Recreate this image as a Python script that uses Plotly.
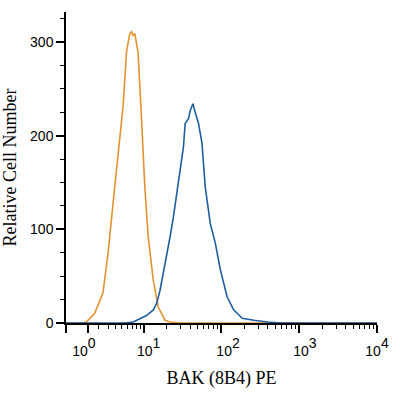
import numpy as np
import plotly.graph_objects as go

# Display transform (biexponential-like, asinh with linearisation width C)
C = 2.8

def tf(v):
    return np.arcsinh(np.asarray(v, dtype=float) / C)

# Isotype control (orange)
iso_x = [-0.88, 0.5, 0.82, 1.57, 2.42, 3.00, 3.65, 4.38, 5.20, 5.82, 6.48, 6.84,
         7.20, 7.59, 8.42, 9.36, 10.36, 11.47, 13.36, 15.5, 19.0, 22.1, 30, 100,
         1000, 10000]
iso_y = [0, 0, 1, 10, 32, 74, 128, 178, 232, 290, 309, 311, 307, 309, 288, 217,
         145, 92, 46, 17, 3, 1, 0, 0, 0, 0]

# BAK (8B4) PE stained (blue)
bak_x = [-0.88, 5.5, 7.2, 10.9, 13.4, 14.8, 16.4, 18.1, 20.0, 22.1, 24.4, 27.0,
         29.8, 32.9, 34.6, 38.2, 40.2, 43.5, 46.6, 51.4, 56.9, 62.7, 72.8, 84.5,
         97.9, 119.5, 145, 187, 263, 393, 600, 10000]
bak_y = [0, 0, 1, 8, 14, 21, 35, 53, 71, 92, 113, 138, 160, 188, 213, 218, 227,
         234, 225, 213, 192, 145, 106, 85, 57, 28, 14, 5, 3, 1, 0, 0]

x_min, x_max = -0.88, 10000
major_vals = [1, 10, 100, 1000, 10000]
major_text = ["<span style='font-size:14px'>10</span><sup>%d</sup>" % i for i in range(5)]
minor_vals = [m * 10 ** n for n in range(4) for m in range(2, 10)]
y_major = [0, 100, 200, 300]

# where the decade labels are centred (the instrument software offsets them)
label_anchor = [0.62, 11.6, 123, 1190, 10000]

xr = [float(tf(x_min)), float(tf(x_max))]

fig = go.Figure()
fig.add_trace(go.Scatter(x=tf(iso_x), y=iso_y, mode="lines",
                         line=dict(color="#E3922F", width=1.6), showlegend=False,
                         hoverinfo="skip"))
fig.add_trace(go.Scatter(x=tf(bak_x), y=bak_y, mode="lines",
                         line=dict(color="#1F5E9E", width=1.6), showlegend=False))
# invisible carrier for the label axis
fig.add_trace(go.Scatter(x=xr, y=[0, 0], xaxis="x2", mode="lines",
                         line=dict(width=0, color="rgba(0,0,0,0)"),
                         showlegend=False, hoverinfo="skip"))

tick_font = dict(family="Liberation Sans, Arial", size=14, color="black")
xtick_font = dict(family="Liberation Sans, Arial", size=20, color="black")
title_font = dict(family="Liberation Serif, Times New Roman", size=18, color="black")

fig.update_layout(
    width=400, height=399,
    margin=dict(l=66, r=23, t=12, b=76),
    paper_bgcolor="white", plot_bgcolor="white",
    xaxis=dict(
        range=xr, automargin=False,
        tickmode="array",
        tickvals=[xr[0]] + [float(v) for v in tf(major_vals)],
        showticklabels=False,
        ticks="outside", ticklen=8, tickwidth=1.5, tickcolor="black",
        showline=True, linecolor="black", linewidth=1.5,
        showgrid=False, zeroline=False,
        minor=dict(tickmode="array", tickvals=[float(v) for v in tf(minor_vals)],
                   ticks="outside", ticklen=4, tickwidth=1.2, tickcolor="black",
                   showgrid=False),
    ),
    xaxis2=dict(
        overlaying="x", side="bottom", range=xr, automargin=False,
        tickmode="array",
        tickvals=[float(v) for v in tf(label_anchor)],
        ticktext=major_text,
        ticks="outside", ticklen=8, tickcolor="rgba(0,0,0,0)",
        showline=False, showgrid=False, zeroline=False,
        tickfont=xtick_font,
        title=dict(text="BAK (8B4) PE", font=title_font, standoff=13),
    ),
    yaxis=dict(
        range=[0, 332], automargin=False,
        tickmode="array", tickvals=y_major,
        ticks="outside", ticklen=8, tickwidth=1.5, tickcolor="black",
        showline=True, linecolor="black", linewidth=1.5,
        showgrid=False, zeroline=False,
        tickfont=tick_font,
        minor=dict(dtick=25, ticks="outside", ticklen=4, tickwidth=1.2,
                   tickcolor="black", showgrid=False),
        title=dict(text="Relative Cell Number", font=title_font, standoff=10),
    ),
)

fig.write_html("out.html",
               config={"displayModeBar": False},
               post_script="document.body.style.margin='0';document.body.style.overflow='hidden';")
